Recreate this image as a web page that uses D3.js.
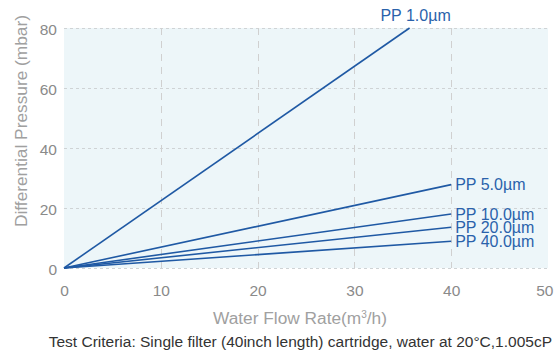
<!DOCTYPE html>
<html><head><meta charset="utf-8">
<script src="https://cdn.jsdelivr.net/npm/d3@7"></script>
<style>
body{margin:0;background:#fff;}
svg{display:block;font-family:"Liberation Sans",Arial,sans-serif;}
</style></head><body>
<svg id="c" width="554" height="351"></svg>
<script>
const seriesNames = ["PP 1.0µm","PP 5.0µm","PP 10.0µm","PP 20.0µm","PP 40.0µm"];
const endFlow = [35.7, 40, 40, 40, 40];
const endPressure = [80, 27.8, 18, 13.6, 8.9];
const xTicks = [0,10,20,30,40,50];
const yTicks = [0,20,40,60,80];

const svg = d3.select("#c");
const x = d3.scaleLinear().domain([0,50]).range([64,548]);
const y = d3.scaleLinear().domain([0,80]).range([268,28]);
const lineColor = "#1f59a4";
const labelColor = "#2a62ab";
const tickColor = "#8a8a8a";

svg.append("rect").attr("x",x(0)).attr("y",y(80)).attr("width",x(50)-x(0)).attr("height",y(0)-y(80)).attr("fill","#edf6f9");

svg.selectAll(".hg").data(yTicks).enter().append("line")
  .attr("x1",x(0)).attr("x2",x(50)).attr("y1",d=>y(d)+0.5).attr("y2",d=>y(d)+0.5)
  .attr("stroke","#cfd3d5").attr("stroke-width",1).attr("stroke-dasharray","3,3");
svg.selectAll(".vg").data([10,20,30,40]).enter().append("line")
  .attr("x1",d=>Math.round(x(d))+0.5).attr("x2",d=>Math.round(x(d))+0.5).attr("y1",y(80)).attr("y2",y(0))
  .attr("stroke","#d0d0d0").attr("stroke-width",1).attr("stroke-dasharray","7,6");

const xAxis = d3.axisBottom(x).tickValues(xTicks).tickSize(0).tickPadding(17);
const gx = svg.append("g").attr("transform",`translate(0,${y(0)})`).call(xAxis);
gx.select(".domain").remove();
gx.selectAll("text").attr("fill",tickColor).attr("font-size",15.5).attr("font-family","Liberation Sans, Arial, sans-serif");
gx.selectAll(".tick").filter(d=>d===50).select("text").attr("text-anchor","end").attr("x",5);

const yAxis = d3.axisLeft(y).tickValues(yTicks).tickSize(0).tickPadding(7);
const gy = svg.append("g").attr("transform",`translate(${x(0)},0)`).call(yAxis);
gy.select(".domain").remove();
gy.selectAll("text").attr("fill",tickColor).attr("font-size",15.5).attr("font-family","Liberation Sans, Arial, sans-serif").attr("dy","0.45em");

const data = seriesNames.map((n,i)=>({name:n, pts:[[0,0],[endFlow[i],endPressure[i]]]}));
const lg = d3.line().x(d=>x(d[0])).y(d=>y(d[1]));
svg.selectAll(".ln").data(data).enter().append("path")
  .attr("d",d=>lg(d.pts)).attr("fill","none").attr("stroke",lineColor).attr("stroke-width",1.6);

data.forEach((d,i)=>{
  const p = d.pts[1];
  if(i===0){
    svg.append("text").attr("x",x(p[0])+6).attr("y",y(p[1])-7).attr("text-anchor","middle")
      .attr("fill",labelColor).attr("font-size",16).text(d.name);
  } else {
    svg.append("text").attr("x",x(p[0])+4).attr("y",y(p[1])).attr("dy","0.35em")
      .attr("fill",labelColor).attr("font-size",16).text(d.name);
  }
});

svg.append("text").attr("x",300).attr("y",324).attr("text-anchor","middle")
  .attr("fill","#a0a0a0").attr("font-size",17.3).html('Water Flow Rate(m<tspan dy="-6" font-size="10">3</tspan><tspan dy="6">/h)</tspan>');
svg.append("text").attr("transform",`translate(27,121) rotate(-90)`).attr("text-anchor","middle")
  .attr("fill","#a0a0a0").attr("font-size",17.3).text("Differential Pressure (mbar)");
svg.append("text").attr("x",552).attr("y",347).attr("text-anchor","end")
  .attr("fill","#333").attr("font-size",15.5).text("Test Criteria: Single filter (40inch length) cartridge, water at 20°C,1.005cP");
</script></body></html>
